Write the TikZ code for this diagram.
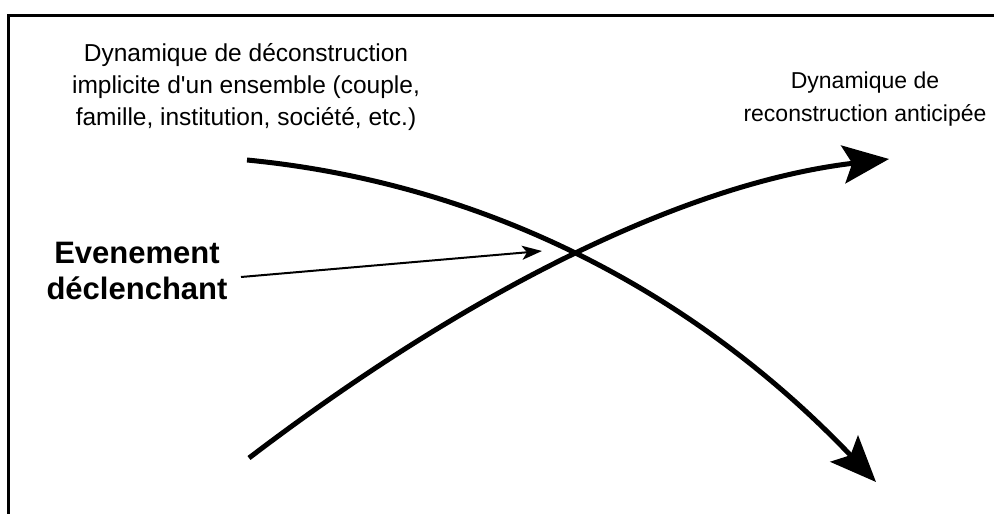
\documentclass[tikz,border=0pt]{standalone}
\usepackage{fontspec}
\setmainfont{Liberation Sans}
\usetikzlibrary{arrows.meta}
\tikzset{
  frameline/.style={line width=3pt, line cap=rect},
  flow/.style={line width=5pt, -{Stealth[length=46pt, width=38pt, inset=9pt]}},
  trigger/.style={line width=2pt, -{Stealth[length=20pt, width=14pt, inset=5pt]}},
  label/.style={align=center, inner sep=0pt, anchor=base},
}
\begin{document}
\begin{tikzpicture}[x=1pt, y=-1pt]
\useasboundingbox (0,0) rectangle (994,514);
\clip (0,0) rectangle (994,514);
\fill[white] (0,0) rectangle (994,514);
\draw[frameline] (8,530) -- (8,15) -- (1010,15);

\node[label, font=\fontsize{24.5}{32}\selectfont] (deco) at (246,125)
  {Dynamique de déconstruction\\implicite d\textquotesingle un ensemble (couple,\\famille, institution, société, etc.)};
\node[label, font=\fontsize{23}{33}\selectfont] (reco) at (865,121)
  {Dynamique de\\reconstruction anticipée};
\node[label, font=\fontsize{31}{36}\selectfont\bfseries] (evt) at (137,299)
  {Evenement\\déclenchant};

\coordinate (dstart) at (247,160);
\coordinate (dend) at (876,482);
\coordinate (rstart) at (249,458);
\coordinate (rend) at (889,159);
\coordinate (tstart) at (241,277);
\coordinate (tend) at (542,251);

\draw[flow] (dstart) .. controls (484,183) and (694,291) .. (dend);
\draw[flow] (rstart) .. controls (480,282) and (694,182) .. (rend);
\draw[trigger] (tstart) -- (tend);
\end{tikzpicture}
\end{document}
